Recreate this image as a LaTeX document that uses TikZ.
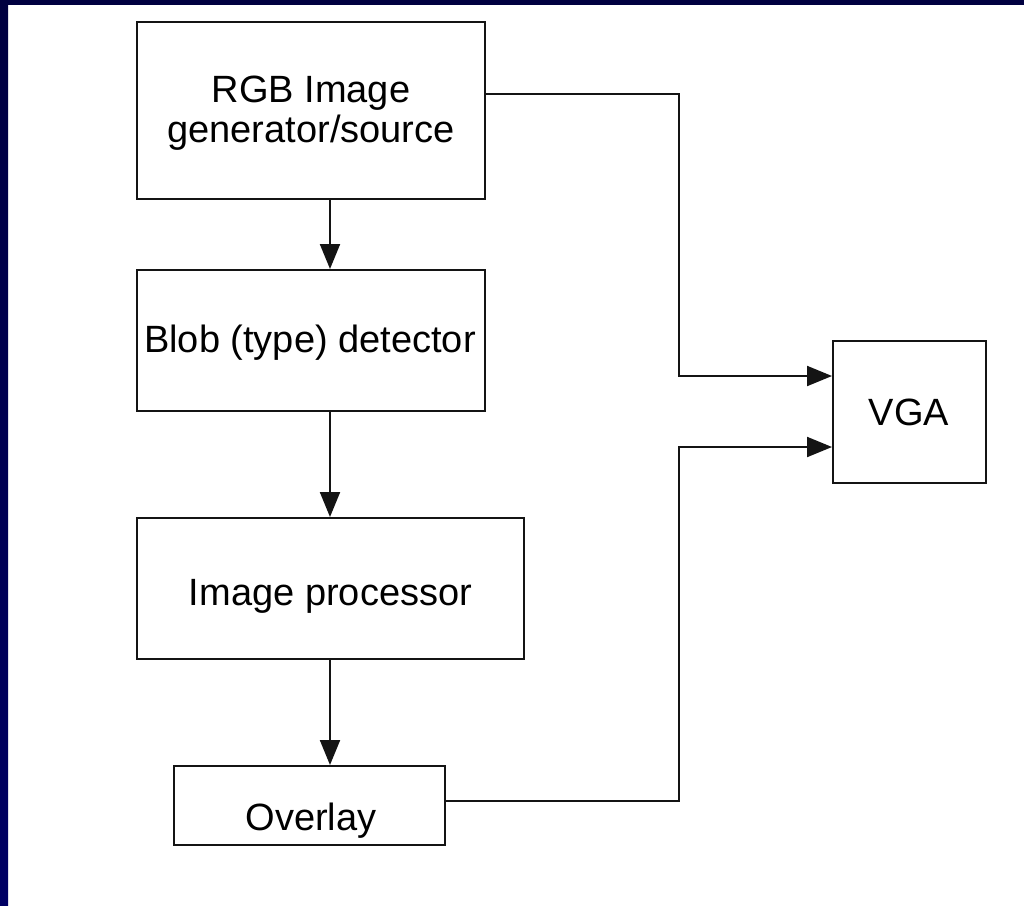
\documentclass[tikz,border=0pt]{standalone}
\usepackage{fontspec}
\setmainfont{Liberation Sans}
\usetikzlibrary{arrows.meta,calc}
\definecolor{navytop}{HTML}{000040}
\definecolor{navyleft}{HTML}{000064}
\definecolor{ink}{HTML}{141414}
\tikzset{
  block/.style={draw=ink, line width=2pt, fill=white, inner sep=0pt, minimum width=#1},
  label text/.style={anchor=base, inner sep=0pt, font=\fontsize{38}{40}\selectfont, text=black},
  flow/.style={draw=ink, line width=2pt, -{Triangle[length=25pt,width=20pt]}},
}
\begin{document}
\begin{tikzpicture}[x=1pt,y=-1pt]
  \useasboundingbox (0,0) rectangle (1024,905);
  \fill[white] (0,0) rectangle (1024,905);
  % frame strips along the top and left edges
  \fill[navytop] (0,0) rectangle (1024,5);
  \shade[top color=navytop, bottom color=navyleft] (0,0) rectangle (8,905);

  % blocks
  \node[block=348pt, minimum height=177pt] (rgb)     at (311,110.5) {};
  \node[block=348pt, minimum height=141pt] (blob)    at (311,340.5) {};
  \node[block=387pt, minimum height=141pt] (proc)    at (330.5,588.5) {};
  \node[block=271pt, minimum height=79pt]  (overlay) at (309.5,805.5) {};
  \node[block=153pt, minimum height=142pt] (vga)     at (909.5,412) {};

  % block captions
  \node[label text] (rgbtxtA)  at (311,102)   {RGB Image};
  \node[label text] (rgbtxtB)  at (311,142)   {generator/source};
  \node[label text] (blobtxt)  at (310,352)   {Blob (type) detector};
  \node[label text] (proctxt)  at (330.5,605) {Image processor};
  \node[label text] (ovltxt)   at (311,830)   {Overlay};
  \node[label text] (vgatxt)   at (909,425)   {VGA};

  % helper coordinates for the connectors
  \coordinate (spine) at (330,0);
  \coordinate (bus) at (679,0);
  \coordinate (vgaA) at ([yshift=36pt]vga.west);
  \coordinate (vgaB) at ([yshift=-35pt]vga.west);
  \coordinate (rgbout) at ([yshift=16.5pt]rgb.east);
  \coordinate (ovlout) at ([yshift=4.5pt]overlay.east);

  % processing chain
  \draw[flow] (rgb.south -| spine) -- (blob.north -| spine);
  \draw[flow] (blob.south -| spine) -- (proc.north -| spine);
  \draw[flow] (proc.south -| spine) -- (overlay.north -| spine);

  % both feeds into the display
  \draw[flow] (rgbout) -| (bus |- vgaA) -- (vgaA);
  \draw[flow] (ovlout) -| (bus |- vgaB) -- (vgaB);
\end{tikzpicture}
\end{document}
